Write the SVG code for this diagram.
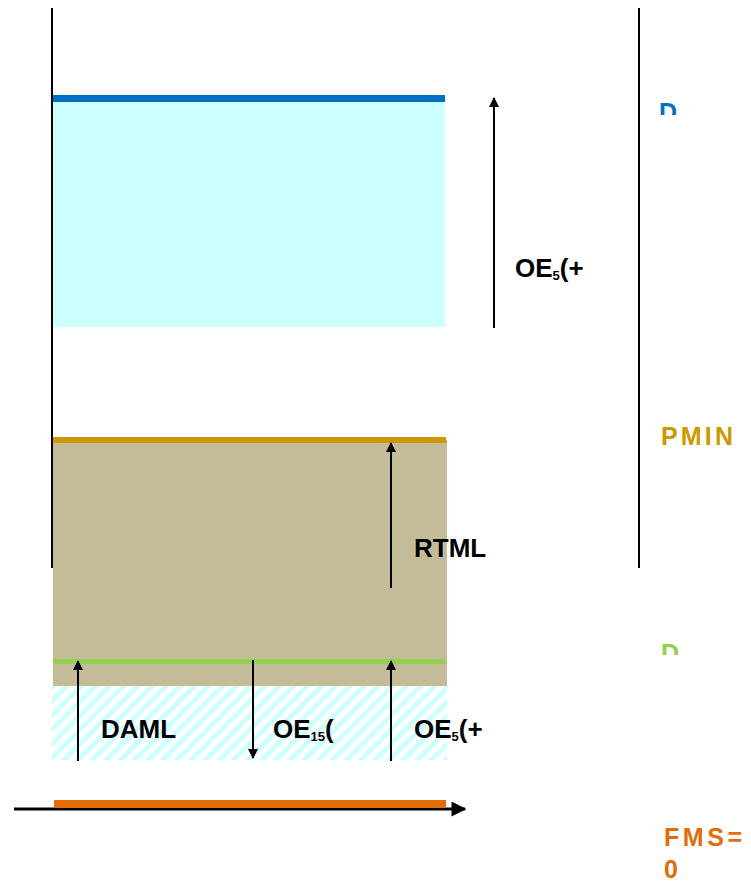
<svg xmlns="http://www.w3.org/2000/svg" width="751" height="882" viewBox="0 0 751 882">
<style>
.lbl{font-family:"Liberation Sans",Arial,sans-serif;font-weight:bold;font-size:26px;fill:#000}
.sub{font-size:13px}
.c{font-family:"Liberation Sans",Arial,sans-serif;font-weight:bold;font-size:25px}
.ax{stroke:#000;stroke-width:2;fill:none}
.arr{stroke:#000;stroke-width:2;fill:none;marker-end:url(#ah)}
</style>
<defs>
<marker id="ah" viewBox="0 0 10 10" refX="9" refY="5" markerWidth="5.5" markerHeight="5" orient="auto" markerUnits="strokeWidth"><path d="M0,0 L10,5 L0,10 z" fill="#000"/></marker>
<marker id="ahb" viewBox="0 0 10 10" refX="9" refY="5" markerWidth="6" markerHeight="5" orient="auto" markerUnits="strokeWidth"><path d="M0,0 L10,5 L0,10 z" fill="#000"/></marker>
<pattern id="hatch" width="10" height="10" patternUnits="userSpaceOnUse" patternTransform="rotate(45)"><rect width="10" height="10" fill="#fff"/><rect width="5" height="10" fill="#CCFFFF"/></pattern>
<clipPath id="clipD1"><rect x="650" y="90" width="50" height="25"/></clipPath>
<clipPath id="clipD2"><rect x="650" y="630" width="50" height="25"/></clipPath>
</defs>
<rect width="751" height="882" fill="#fff"/>
<g id="zones">
<rect id="cyan" x="53" y="100" width="392" height="227" fill="#CCFFFF"/>
<rect id="tan" x="53" y="440" width="394" height="246" fill="#C4BC98"/>
<rect id="hatched" x="52" y="686" width="395" height="74" fill="url(#hatch)"/>
<rect id="blueBar" x="51" y="95" width="394" height="7" fill="#0070C0"/>
<rect id="goldBar" x="53" y="437" width="393" height="6" fill="#CC9900"/>
<rect id="greenBar" x="53" y="659" width="392" height="5" fill="#92D050"/>
</g>
<g id="axes">
<line class="ax" x1="52" y1="8" x2="52" y2="568"/>
<line class="ax" x1="639" y1="8" x2="639" y2="568"/>
<line x1="14" y1="809" x2="465" y2="809" stroke="#000" stroke-width="3" marker-end="url(#ahb)"/>
<rect id="orangeBar" x="54" y="800" width="392" height="8" fill="#E36C09"/>
</g>
<g id="connectors">
<line class="arr" x1="494" y1="328" x2="494" y2="98"/>
<line class="arr" x1="391" y1="588" x2="391" y2="443"/>
<line class="arr" x1="78" y1="761" x2="78" y2="661"/>
<line class="arr" x1="253" y1="660" x2="253" y2="758"/>
<line class="arr" x1="391" y1="761" x2="391" y2="661"/>
</g>
<g id="labels">
<text class="lbl" x="515" y="277">OE<tspan class="sub" dy="3">5</tspan><tspan dy="-3">(+</tspan></text>
<text class="lbl" x="414" y="557">RTML</text>
<text class="lbl" x="101" y="738">DAML</text>
<text class="lbl" x="273" y="738">OE<tspan class="sub" dy="3">15</tspan><tspan dy="-3">(</tspan></text>
<text class="lbl" x="414" y="738">OE<tspan class="sub" dy="3">5</tspan><tspan dy="-3">(+</tspan></text>
<g clip-path="url(#clipD1)"><text class="c" x="659" y="121" fill="#0070C0" font-size="27">D</text></g>
<g clip-path="url(#clipD2)"><text class="c" x="661" y="662" fill="#92D050" font-size="27">D</text></g>
<text class="c" x="661" y="445" fill="#CC9900" textLength="72" lengthAdjust="spacing">PMIN</text>
<text class="c" x="664" y="846" fill="#E36C09" textLength="78" lengthAdjust="spacing">FMS=</text>
<text class="c" x="664" y="878" fill="#E36C09">0</text>
</g>
</svg>
